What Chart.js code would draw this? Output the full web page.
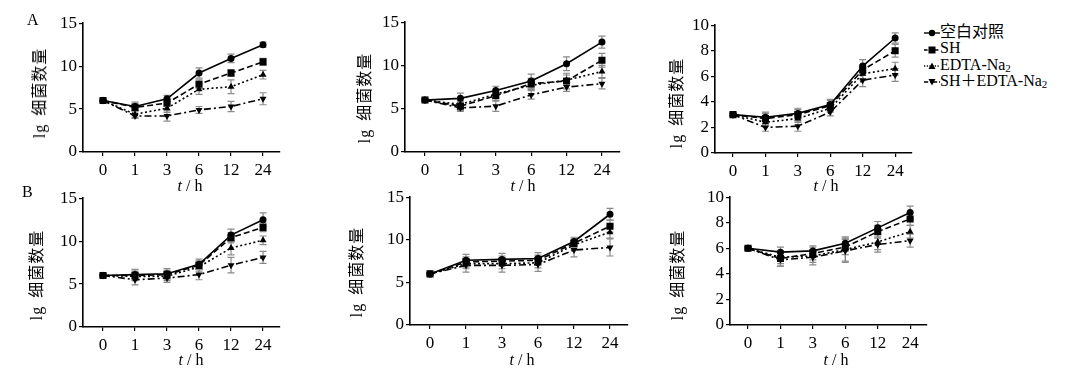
<!DOCTYPE html>
<html>
<head>
<meta charset="utf-8">
<script src="https://cdn.jsdelivr.net/npm/chart.js@4.4.0/dist/chart.umd.min.js"></script>
<style>
body{margin:0;background:#fff;width:1069px;height:379px;position:relative;overflow:hidden;
  font-family:"Liberation Serif","Noto Sans CJK SC",serif;color:#000}
canvas{position:absolute}
.txt{position:absolute;white-space:nowrap;font-size:16px;line-height:1}
.ytitle{transform:translate(-50%,-50%) rotate(-90deg);letter-spacing:1px;word-spacing:3px}
.xtitle{transform:translate(-50%,-50%)}
#legend{position:absolute;left:924px;top:24px;font-size:16px;line-height:16.3px}
#legend div{height:16.3px;white-space:nowrap}
#legend svg{vertical-align:middle;margin-right:0}
#legend sub{font-size:11px;vertical-align:-2px;line-height:0}
</style>
</head>
<body>
<div id="legend"></div>
<script>
// 时间点 / 系列
var timeLabels = ['0', '1', '3', '6', '12', '24'];
var seriesNames = ['空白对照', 'SH', 'EDTA-Na2', 'SH＋EDTA-Na2'];
var legendLabels = ['空白对照', 'SH', 'EDTA-Na<sub>2</sub>', 'SH＋EDTA-Na<sub>2</sub>'];

// lg 细菌数量, 每个面板 4 条曲线: 空白对照, SH, EDTA-Na2, SH+EDTA-Na2
var panelA1 = [
  [6.0, 5.3, 6.2, 9.2, 10.9, 12.5],
  [6.0, 5.2, 5.7, 7.9, 9.2, 10.5],
  [6.0, 4.4, 5.1, 7.3, 7.6, 9.0],
  [6.0, 4.2, 4.2, 4.9, 5.3, 6.2]
];
var panelA2 = [
  [6.0, 6.2, 7.1, 8.2, 10.2, 12.7],
  [6.0, 5.3, 6.5, 7.9, 8.2, 10.6],
  [6.0, 5.5, 6.7, 7.7, 8.3, 9.3],
  [6.0, 5.1, 5.3, 6.6, 7.5, 7.9]
];
var panelA3 = [
  [3.0, 2.8, 3.1, 3.8, 6.8, 9.0],
  [3.0, 2.7, 3.0, 3.7, 6.5, 8.0],
  [3.0, 2.4, 2.7, 3.5, 6.2, 6.6],
  [3.0, 2.0, 2.1, 3.2, 5.7, 6.1]
];
var panelB1 = [
  [6.0, 6.1, 6.2, 7.3, 10.7, 12.5],
  [6.0, 6.0, 6.1, 7.2, 10.4, 11.6],
  [6.0, 5.9, 5.9, 7.0, 9.2, 10.1],
  [6.0, 5.5, 5.7, 6.1, 7.2, 8.1]
];
var panelB2 = [
  [6.0, 7.6, 7.7, 7.8, 9.8, 13.0],
  [6.0, 7.4, 7.5, 7.6, 9.6, 11.6],
  [6.0, 7.2, 7.2, 7.3, 9.4, 10.9],
  [6.0, 7.0, 7.0, 7.1, 8.8, 9.1]
];
var panelB3 = [
  [6.0, 5.7, 5.8, 6.4, 7.6, 8.8],
  [6.0, 5.2, 5.6, 6.1, 7.3, 8.3],
  [6.0, 5.3, 5.4, 5.9, 6.5, 7.3],
  [6.0, 5.1, 5.3, 5.8, 6.3, 6.6]
];

// 误差 (±)
var errA1 = [
  [0.1, 0.5, 0.4, 0.6, 0.5, 0.3],
  [0.1, 0.4, 0.4, 0.5, 0.4, 0.4],
  [0.1, 0.4, 0.5, 0.6, 0.8, 0.5],
  [0.1, 0.3, 0.6, 0.4, 0.6, 0.7]
];
var errA2 = [
  [0.1, 0.6, 0.5, 0.8, 0.8, 0.7],
  [0.1, 0.5, 0.6, 0.6, 0.9, 0.8],
  [0.1, 0.4, 0.5, 0.5, 0.6, 0.7],
  [0.1, 0.4, 0.6, 0.5, 0.5, 0.6]
];
var errA3 = [
  [0.1, 0.4, 0.4, 0.4, 0.5, 0.4],
  [0.1, 0.4, 0.4, 0.4, 0.4, 0.5],
  [0.1, 0.3, 0.3, 0.3, 0.5, 0.5],
  [0.1, 0.3, 0.4, 0.3, 0.5, 0.5]
];
var errB1 = [
  [0.1, 0.6, 0.6, 0.6, 0.7, 0.8],
  [0.1, 0.5, 0.5, 0.5, 0.6, 0.5],
  [0.1, 0.5, 0.5, 0.5, 0.8, 0.5],
  [0.1, 0.6, 0.5, 0.6, 0.9, 0.7]
];
var errB2 = [
  [0.1, 0.7, 0.7, 0.7, 0.5, 0.7],
  [0.1, 0.6, 0.6, 0.6, 0.5, 0.7],
  [0.1, 0.6, 0.6, 0.6, 0.5, 0.7],
  [0.1, 0.8, 0.8, 0.8, 0.8, 1.0]
];
var errB3 = [
  [0.1, 0.4, 0.4, 0.5, 0.5, 0.5],
  [0.1, 0.6, 0.5, 0.6, 0.5, 0.5],
  [0.1, 0.5, 0.5, 0.9, 0.6, 0.5],
  [0.1, 0.5, 0.6, 0.9, 0.6, 0.5]
];

// 线型/标记
var dashes = [[], [6, 3], [2, 2.5], [7, 3, 2, 3]];
var markers = ['circle', 'rect', 'triangle', 'triangle'];
var radii = [3.5, 5, 4, 4];
var rots = [0, 0, 0, 180];

// 面板位置 (chart area 像素)
var panels = [
  {data: panelA1, err: errA1, L: 83,  R: 280, T: 23,  B: 152, ymax: 15, step: 5, xMin: -0.625, xMax: 5.53, tx: 190, ty: 186, yx: 40,  yy: 93},
  {data: panelA2, err: errA2, L: 405, R: 620, T: 22,  B: 152, ymax: 15, step: 5, xMin: -0.565, xMax: 5.51, tx: 523, ty: 186, yx: 365, yy: 98},
  {data: panelA3, err: errA3, L: 715, R: 912, T: 25,  B: 153, ymax: 10, step: 2, xMin: -0.556, xMax: 5.52, tx: 826, ty: 186, yx: 677, yy: 103},
  {data: panelB1, err: errB1, L: 83,  R: 280, T: 198, B: 327, ymax: 15, step: 5, xMin: -0.625, xMax: 5.53, tx: 191, ty: 360, yx: 37,  yy: 275},
  {data: panelB2, err: errB2, L: 410, R: 628, T: 197, B: 325, ymax: 15, step: 5, xMin: -0.556, xMax: 5.5,  tx: 522, ty: 360, yx: 357, yy: 272},
  {data: panelB3, err: errB3, L: 730, R: 927, T: 197, B: 325, ymax: 10, step: 2, xMin: -0.556, xMax: 5.52, tx: 836, ty: 360, yx: 678, yy: 275}
];

var AXW = 40, PADT = 12, PADR = 6, XAXH = 30;
var tickFont = {family: '"Liberation Serif", serif', size: 17};

// 误差线
var errorBars = {
  id: 'errorBars',
  beforeDatasetsDraw: function(chart) {
    var ctx = chart.ctx, xs = chart.scales.x, ys = chart.scales.y;
    ctx.save();
    ctx.strokeStyle = '#8a8a8a';
    ctx.lineWidth = 1.2;
    ctx.setLineDash([]);
    chart.data.datasets.forEach(function(ds) {
      ds.data.forEach(function(pt, i) {
        var e = ds.errs[i];
        if (!e) return;
        var x = xs.getPixelForValue(pt.x);
        var y1 = ys.getPixelForValue(pt.y - e), y2 = ys.getPixelForValue(pt.y + e);
        ctx.beginPath();
        ctx.moveTo(x, y1); ctx.lineTo(x, y2);
        ctx.moveTo(x - 3.5, y1); ctx.lineTo(x + 3.5, y1);
        ctx.moveTo(x - 3.5, y2); ctx.lineTo(x + 3.5, y2);
        ctx.stroke();
      });
    });
    ctx.restore();
  }
};

function addText(html, cls, x, y) {
  var d = document.createElement('div');
  d.className = 'txt ' + cls;
  d.style.left = x + 'px';
  d.style.top = y + 'px';
  d.innerHTML = html;
  document.body.appendChild(d);
}

function makePanel(p) {
  var cv = document.createElement('canvas');
  var w = p.R - p.L + AXW + PADR, h = p.B - p.T + PADT + XAXH;
  cv.width = w; cv.height = h;
  cv.style.left = (p.L - AXW) + 'px';
  cv.style.top = (p.T - PADT) + 'px';
  cv.style.width = w + 'px';
  cv.style.height = h + 'px';
  document.body.appendChild(cv);

  var datasets = p.data.map(function(vals, s) {
    return {
      label: seriesNames[s],
      data: vals.map(function(v, i) { return {x: i, y: v}; }),
      errs: p.err[s],
      borderColor: '#000',
      backgroundColor: '#000',
      borderWidth: 1.6,
      borderDash: dashes[s],
      pointStyle: markers[s],
      pointRadius: radii[s],
      pointRotation: rots[s],
      pointBorderWidth: 0,
      fill: false,
      tension: 0
    };
  });

  new Chart(cv, {
    type: 'line',
    data: {datasets: datasets},
    plugins: [errorBars],
    options: {
      responsive: false,
      animation: false,
      devicePixelRatio: 1,
      layout: {padding: {top: PADT, right: PADR, left: 0, bottom: 0}},
      plugins: {legend: {display: false}, tooltip: {enabled: false}},
      scales: {
        x: {
          type: 'linear',
          min: p.xMin,
          max: p.xMax,
          afterBuildTicks: function(s) {
            s.ticks = timeLabels.map(function(t, i) { return {value: i}; });
          },
          afterFit: function(s) { s.height = XAXH; },
          ticks: {
            callback: function(v) { return timeLabels[v]; },
            font: tickFont, color: '#000', padding: 4, maxRotation: 0, autoSkip: false
          },
          grid: {display: true, drawOnChartArea: false, drawTicks: true, tickLength: 4, color: '#000', lineWidth: 1.2},
          border: {display: true, color: '#000', width: 1.6}
        },
        y: {
          min: 0,
          max: p.ymax,
          afterFit: function(s) { s.width = AXW; },
          ticks: {stepSize: p.step, font: tickFont, color: '#000', padding: 2},
          grid: {display: true, drawOnChartArea: false, drawTicks: true, tickLength: 4, color: '#000', lineWidth: 1.2},
          border: {display: true, color: '#000', width: 1.6}
        }
      }
    }
  });

  addText('<i>t</i> / h', 'xtitle', p.tx, p.ty);
  addText('lg 细菌数量', 'ytitle', p.yx, p.yy);
}

panels.forEach(makePanel);

addText('A', '', 27, 12);
addText('B', '', 22, 184);

// 图例
var legendSvg = [
  '<circle cx="8" cy="5" r="3.2"/>',
  '<rect x="4.5" y="1.5" width="7" height="7"/>',
  '<polygon points="8,1.5 11.5,8 4.5,8"/>',
  '<polygon points="8,8.5 11.5,2 4.5,2"/>'
];
var leg = document.getElementById('legend');
legendLabels.forEach(function(lab, s) {
  var dash = dashes[s].length ? ' stroke-dasharray="' + dashes[s].map(function(d) { return d * 0.6; }).join(',') + '"' : '';
  var row = document.createElement('div');
  row.innerHTML = '<svg width="16" height="10"><line x1="0" y1="5" x2="16" y2="5" stroke="#000" stroke-width="1.4"' + dash + '/>' +
    legendSvg[s] + '</svg>' + lab;
  leg.appendChild(row);
});
</script>
</body>
</html>
